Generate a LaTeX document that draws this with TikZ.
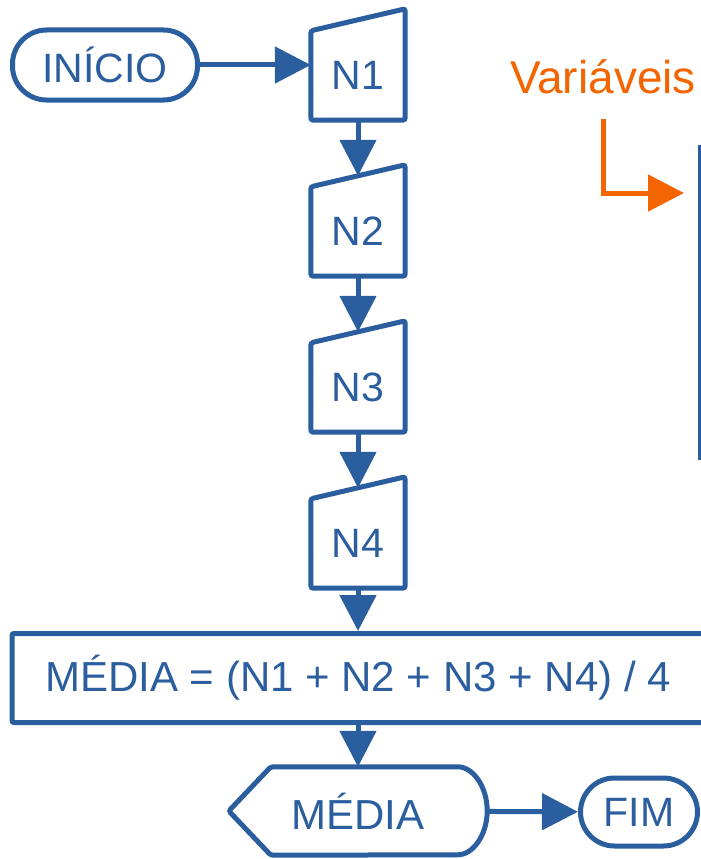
\documentclass[tikz,border=0pt]{standalone}
\usepackage{fontspec}
\setmainfont{Liberation Sans}
\usetikzlibrary{arrows.meta}
\definecolor{azul}{RGB}{43,94,158}
\definecolor{laranja}{RGB}{242,101,0}

\begin{document}
\begin{tikzpicture}[x=1pt,y=1pt]
  \tikzset{terminal/.style = {draw=azul,line width=5pt,rounded corners=34pt,minimum height=70pt,inner sep=0pt,text=azul,font=\fontsize{41}{49}\selectfont}}
  \tikzset{entrada/.style = {draw=none,minimum width=94pt,minimum height=100pt,inner sep=0pt,text height=39pt,text=azul,font=\fontsize{41}{49}\selectfont}}
  \tikzset{processo/.style = {draw=azul,line width=5pt,rounded corners=2pt,inner sep=0pt,text=azul,font=\fontsize{42}{50}\selectfont}}
  \tikzset{contorno/.style = {draw=azul,line width=5pt,rounded corners=2.5pt}}
  \tikzset{seta/.style = {azul,line width=5pt,-{Triangle[length=36pt,width=36pt]}}}

\clip (0,0) rectangle (701,-859);

\node[terminal,minimum width=185pt] (inicio) at (105,-65) {INÍCIO};
\node[entrada] (n1) at (358,-70) {N1};
\node[entrada] (n2) at (358,-226) {N2};
\node[entrada] (n3) at (358,-382) {N3};
\node[entrada] (n4) at (358,-538) {N4};
\node[processo,minimum width=692pt,minimum height=89pt] (media) at (358,-678) {MÉDIA = (N1 + N2 + N3 + N4) / 4};
\node[entrada,minimum width=258pt,minimum height=88pt,text height=,font=\fontsize{42}{50}\selectfont] (saida) at (358,-811) {MÉDIA};
\node[terminal,minimum width=117pt,minimum height=68pt] (fim) at (639,-812) {FIM};

% quadro das variaveis (so a borda esquerda aparece)
\node[draw=azul,line width=3pt,minimum width=200pt,minimum height=312pt] (quadro) at (799,-302) {};
\node[anchor=base,inner sep=0pt,text=laranja,font=\fontsize{46}{54}\selectfont] (titulo) at (603,-93) {Variáveis};
\coordinate (alvo) at (684,-193);

\foreach \n in {n1,n2,n3,n4}
  \draw[contorno] ([yshift=11pt]\n.north east) -- (\n.south east) -- (\n.south west) -- ([yshift=-11pt]\n.north west) -- cycle;
\draw[contorno] (saida.west) -- ([xshift=42pt]saida.north west) -- ([xshift=-32pt]saida.north east)
  arc[start angle=90,end angle=-90,x radius=32pt,y radius=44pt] -- ([xshift=42pt]saida.south west) -- cycle;

  \draw[seta] (inicio.east) -- (inicio.east -| n1.west);
  \draw[seta] (n1) -- (n2);
  \draw[seta] (n2) -- (n3);
  \draw[seta] (n3) -- (n4);
  \draw[seta] (n4) -- (media);
  \draw[seta] (media) -- (saida);
  \draw[seta] (saida) -- (fim);
  \draw[seta,laranja] ([yshift=-25pt]titulo.south) |- (alvo);

\end{tikzpicture}
\end{document}
